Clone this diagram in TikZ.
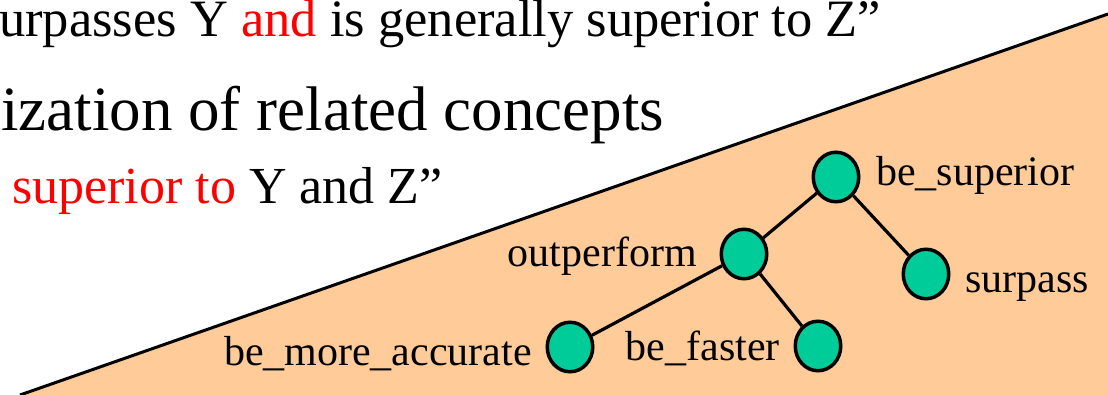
\documentclass[tikz,border=0pt]{standalone}
\usepackage{fontspec}
\setmainfont{Liberation Serif}
\newfontfamily\slideserif{Liberation Serif}
\usepackage{xcolor}
\definecolor{slideorange}{RGB}{255,204,153}
\definecolor{slideteal}{RGB}{0,204,153}
\definecolor{slidered}{RGB}{255,0,0}
\usetikzlibrary{shapes.geometric,positioning}

\begin{document}
\begin{tikzpicture}[x=1pt,y=-1pt,
  slidetext/.style={anchor=base west,inner sep=0pt,font=\slideserif\fontsize{52.5}{60}\selectfont},
  conceptnode/.style={ellipse,draw=black,fill=slideteal,line width=3.5pt,
    minimum width=45.5pt,minimum height=49.5pt,inner sep=0pt},
  conceptlabel/.style={inner sep=0pt,font=\slideserif\fontsize{42}{48}\selectfont},
  conceptlink/.style={draw=black,line width=3.2pt}
]
  \useasboundingbox (0,0) rectangle (1108,395);
  \fill[slideorange] (20,395) -- (1108,14) -- (1108,395) -- cycle;
  \draw[line width=3pt] (20,395) -- (1108,14);

  \node[slidetext] (line1) at (-1,37) {urpasses Y {\color{slidered}and} is generally superior to Z”};
  \node[slidetext,font=\slideserif\fontsize{63}{70}\selectfont] (line2) at (1,131) {ization of related concepts};
  \node[slidetext,font=\slideserif\fontsize{52}{60}\selectfont] (line3) at (12,204) {{\color{slidered}superior to} Y and Z”};

  \node[conceptnode] (superior) at (836,177) {};
  \node[conceptnode] (outperform) at (744,254) {};
  \node[conceptnode] (surpass) at (926,274) {};
  \node[conceptnode] (accurate) at (570,347) {};
  \node[conceptnode] (faster) at (818,346) {};

  \draw[conceptlink] (superior) -- (outperform);
  \draw[conceptlink] (superior) -- (surpass);
  \draw[conceptlink] (outperform) -- (accurate);
  \draw[conceptlink] (outperform) -- (faster);

  \node[conceptlabel,anchor=base west] (superiorlbl) at (876,186) {be\_superior};
  \node[conceptlabel,anchor=base east] (outperformlbl) at (697,267) {outperform};
  \node[conceptlabel,anchor=base west] (surpasslbl) at (965,292) {surpass};
  \node[conceptlabel,anchor=base east] (accuratelbl) at (532,365) {be\_more\_accurate};
  \node[conceptlabel,anchor=base east] (fasterlbl) at (780,360) {be\_faster};
\end{tikzpicture}
\end{document}
